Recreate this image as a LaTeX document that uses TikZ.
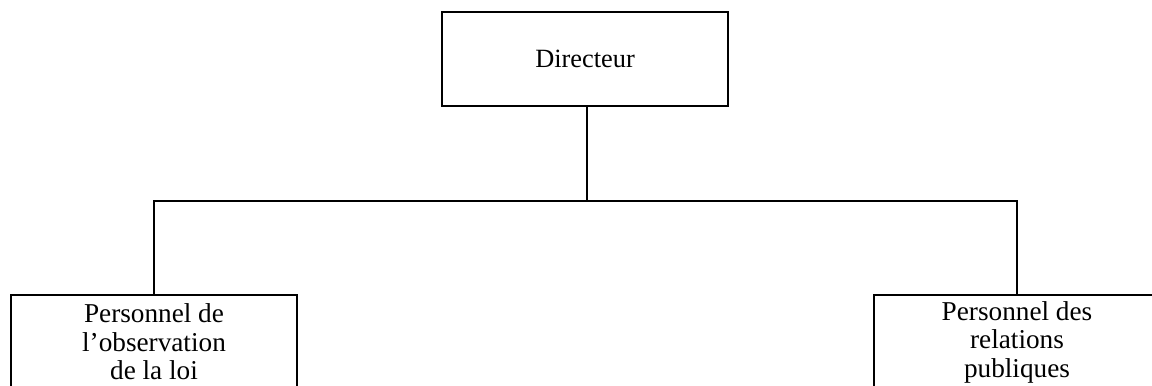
\documentclass[tikz,border=0pt]{standalone}
\usepackage{fontspec}
\setmainfont{Liberation Serif}
\begin{document}
\begin{tikzpicture}[line width=1.6pt,
    boite/.style = {draw, minimum width=5.72cm, minimum height=1.88cm, align=center, inner sep=0pt},
    grand/.style = {font=\fontsize{15.5}{16.2}\selectfont}]
    \clip (0,0) rectangle (23.04,7.72); % page de l'image
    \node[boite, font=\fontsize{15}{18}\selectfont] (dir) at (11.70,6.54) {Directeur};
    \node[boite, grand] (loi) at (3.08,0.88) {Personnel de\\l'observation\\de la loi};
    \node[boite, grand] (pub) at (20.34,0.88) {Personnel des\\relations\\publiques};
    \coordinate (mid) at (11.74,3.70);
    \draw (dir.south -| mid) -- (mid);
    \draw (loi.north) |- (mid) -| (pub.north);
\end{tikzpicture}
\end{document}
